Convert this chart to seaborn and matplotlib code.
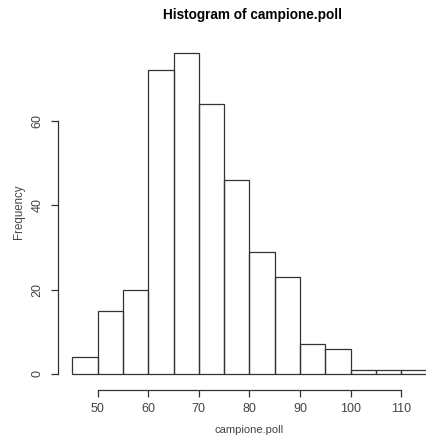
import numpy as np
import matplotlib
matplotlib.use("Agg")
import matplotlib.pyplot as plt
import seaborn as sns

# Bin edges and frequencies of campione.poll
bin_edges = [45, 50, 55, 60, 65, 70, 75, 80, 85, 90, 95, 100, 105, 110, 115]
counts = [4, 15, 20, 72, 76, 64, 46, 29, 23, 7, 6, 1, 1, 1]
x_ticks = [50, 60, 70, 80, 90, 100, 110]
y_ticks = [0, 20, 40, 60]

centers = [(a + b) / 2 for a, b in zip(bin_edges[:-1], bin_edges[1:])]

sns.set_style("white")
plt.rcParams["font.family"] = ["Liberation Sans", "DejaVu Sans"]

W, H = 427, 441
fig = plt.figure(figsize=(W / 100, H / 100), dpi=100)

# plot region in pixels (R-style extended limits)
left_px, right_px, bottom_px, top_px = 58, 441, 390, 40.3
ax = fig.add_axes([left_px / W, (H - bottom_px) / H,
                   (right_px - left_px) / W, (bottom_px - top_px) / H])

sns.histplot(x=centers, weights=counts, bins=bin_edges, fill=False,
             color="#333333", linewidth=0.9, ax=ax)

ax.set_xlim(42.2, 117.8)
ax.set_ylim(-3.79, 79.04)

for s in ["top", "right"]:
    ax.spines[s].set_visible(False)
for s in ["left", "bottom"]:
    ax.spines[s].set_visible(True)
    ax.spines[s].set_color("#333333")
    ax.spines[s].set_linewidth(0.9)
ax.spines["left"].set_bounds(0, 60)
ax.spines["bottom"].set_bounds(50, 110)

ax.set_xticks(x_ticks)
ax.set_yticks(y_ticks)
ax.tick_params(axis="both", direction="out", length=5, width=0.9,
               color="#333333", labelsize=9, labelcolor="#444444",
               bottom=True, left=True)
ax.tick_params(axis="x", pad=4.5)
ax.tick_params(axis="y", pad=5.5)
plt.setp(ax.get_yticklabels(), rotation=90, va="center")

ax.set_xlabel("campione.poll", fontsize=8, color="#444444")
ax.set_ylabel("Frequency", fontsize=8.3, color="#444444")
ax.xaxis.set_label_coords(249 / W, 1 - 430 / H, transform=fig.transFigure)
ax.yaxis.set_label_coords(19 / W, 1 - 212 / H, transform=fig.transFigure)
ax.xaxis.label.set_va("center")
ax.yaxis.label.set_va("center")

fig.text(253 / W, 1 - 15 / H, "Histogram of campione.poll", ha="center",
         va="center", fontsize=9.8, fontweight="bold", color="black")

fig.savefig("out.png", dpi=100)
